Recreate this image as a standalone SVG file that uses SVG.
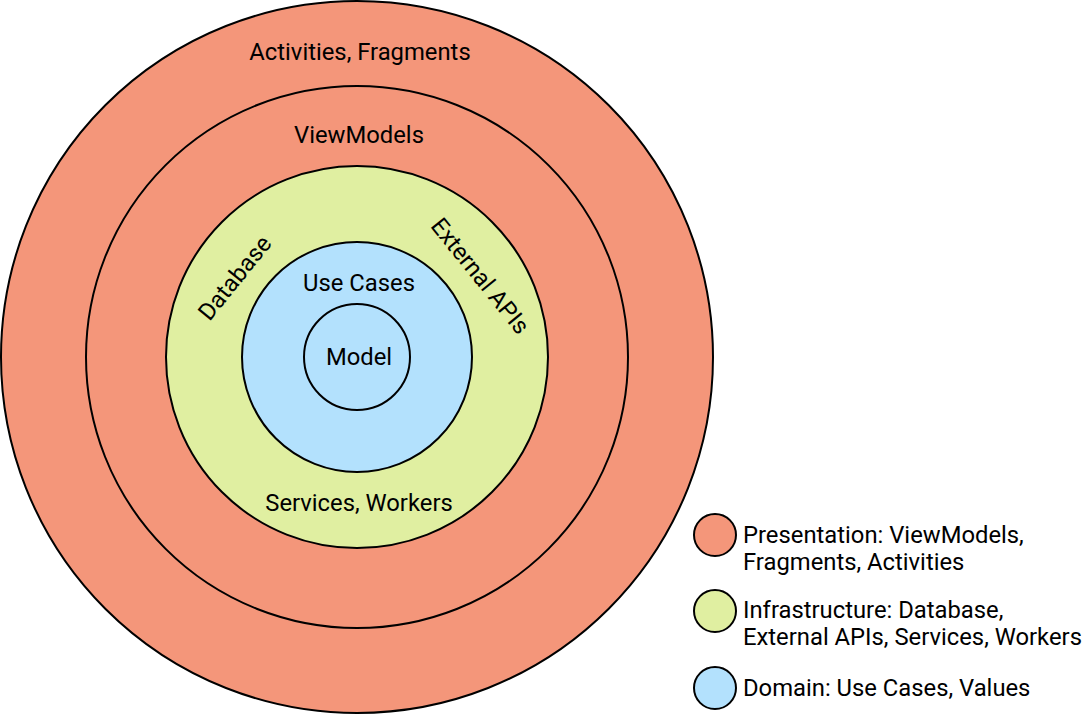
<svg xmlns="http://www.w3.org/2000/svg" width="1087" height="714" viewBox="0 0 1087 714">
<style>
.ring{stroke:#000;stroke-width:2}
.p{fill:#F4967A}
.i{fill:#E0EFA1}
.d{fill:#B3E1FD}
text{font-family:Roboto,"Liberation Sans",sans-serif;font-size:23.8px;fill:#000}
.c{text-anchor:middle}
</style>
<rect width="1087" height="714" fill="#fff"/>
<g id="presentation-outer">
<circle class="ring p" cx="357" cy="357" r="356"/>
<text class="c" x="360" y="60">Activities, Fragments</text>
</g>
<g id="presentation-inner">
<circle class="ring p" cx="357" cy="357" r="271"/>
<text class="c" x="359" y="143">ViewModels</text>
</g>
<g id="infrastructure">
<circle class="ring i" cx="357" cy="357" r="191"/>
<text class="c" transform="translate(241,283) rotate(-51)" x="0" y="0">Database</text>
<text class="c" transform="translate(474,281) rotate(51)" x="0" y="0">External APIs</text>
<text class="c" x="359" y="511">Services, Workers</text>
</g>
<g id="domain">
<circle class="ring d" cx="357" cy="357" r="115"/>
<text class="c" x="359" y="291">Use Cases</text>
</g>
<g id="model">
<circle class="ring d" cx="357" cy="357" r="53"/>
<text class="c" x="359" y="365">Model</text>
</g>
<g id="connectors"></g>
<g id="legend">
<g id="legend-presentation">
<circle class="ring p" cx="715" cy="535" r="21"/>
<text x="743" y="543">Presentation: ViewModels,</text>
<text x="743" y="570">Fragments, Activities</text>
</g>
<g id="legend-infrastructure">
<circle class="ring i" cx="715" cy="611" r="21"/>
<text x="743" y="618">Infrastructure: Database,</text>
<text x="743" y="645">External APIs, Services, Workers</text>
</g>
<g id="legend-domain">
<circle class="ring d" cx="715" cy="688" r="21"/>
<text x="743" y="696">Domain: Use Cases, Values</text>
</g>
</g>
</svg>
